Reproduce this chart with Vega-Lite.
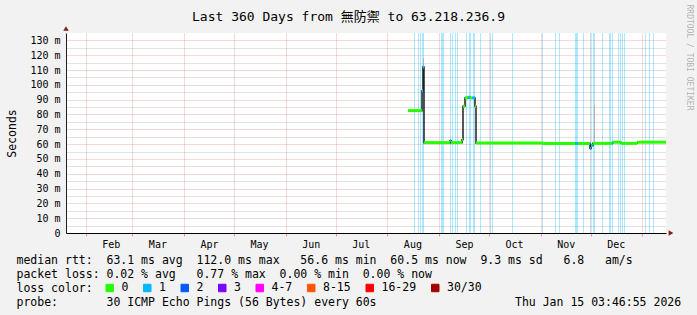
{
  "$schema": "https://vega.github.io/schema/vega-lite/v6.json",
  "width": 600,
  "height": 200,
  "autosize": {"type": "none"},
  "padding": {"left": 66, "top": 33, "right": 31, "bottom": 82},
  "background": "#F2F2F2",
  "config": {"view": {"fill": "#FFFFFF", "stroke": null}, "font": "DejaVu Sans Mono"},
  "title": {
    "text": "Last 360 Days from 無防禦 to 63.218.236.9",
    "font": "DejaVu Sans Mono, Noto Sans CJK TC",
    "fontSize": 13,
    "fontWeight": "normal",
    "color": "#000000",
    "anchor": "middle",
    "dx": -17.5,
    "dy": 42,
    "offset": 12,
    "baseline": "alphabetic"
  },
  "datasets": {
    "loss_periods": [
      {"t": "2025-08-16T22:59:00Z", "t2": "2025-08-17T13:23:00Z"},
      {"t": "2025-08-19T08:35:00Z", "t2": "2025-08-19T22:59:00Z"},
      {"t": "2025-08-20T13:23:00Z", "t2": "2025-08-21T03:47:00Z"},
      {"t": "2025-08-21T18:11:00Z", "t2": "2025-08-22T22:59:00Z"},
      {"t": "2025-09-02T03:47:00Z", "t2": "2025-09-03T22:59:00Z"},
      {"t": "2025-09-07T13:23:00Z", "t2": "2025-09-08T03:47:00Z"},
      {"t": "2025-09-08T18:11:00Z", "t2": "2025-09-09T08:35:00Z"},
      {"t": "2025-09-10T13:23:00Z", "t2": "2025-09-11T03:47:00Z"},
      {"t": "2025-09-11T18:11:00Z", "t2": "2025-09-12T08:35:00Z"},
      {"t": "2025-09-17T03:47:00Z", "t2": "2025-09-17T18:11:00Z"},
      {"t": "2025-09-18T22:59:00Z", "t2": "2025-09-20T03:47:00Z"},
      {"t": "2025-09-21T08:35:00Z", "t2": "2025-09-22T13:23:00Z"},
      {"t": "2025-09-25T13:23:00Z", "t2": "2025-09-26T03:47:00Z"},
      {"t": "2025-10-01T13:23:00Z", "t2": "2025-10-02T03:47:00Z"},
      {"t": "2025-10-02T18:11:00Z", "t2": "2025-10-03T08:35:00Z"},
      {"t": "2025-10-14T18:11:00Z", "t2": "2025-10-15T08:35:00Z"},
      {"t": "2025-11-01T18:11:00Z", "t2": "2025-11-02T08:35:00Z"},
      {"t": "2025-11-09T13:23:00Z", "t2": "2025-11-10T03:47:00Z"},
      {"t": "2025-11-11T22:59:00Z", "t2": "2025-11-12T13:23:00Z"},
      {"t": "2025-11-21T13:23:00Z", "t2": "2025-11-23T08:35:00Z"},
      {"t": "2025-11-26T08:35:00Z", "t2": "2025-11-26T22:59:00Z"},
      {"t": "2025-11-30T13:23:00Z", "t2": "2025-12-01T03:47:00Z"},
      {"t": "2025-12-02T08:35:00Z", "t2": "2025-12-03T13:23:00Z"},
      {"t": "2025-12-07T18:11:00Z", "t2": "2025-12-08T08:35:00Z"},
      {"t": "2025-12-11T22:59:00Z", "t2": "2025-12-13T03:47:00Z"},
      {"t": "2025-12-13T18:11:00Z", "t2": "2025-12-14T08:35:00Z"},
      {"t": "2025-12-17T08:35:00Z", "t2": "2025-12-17T22:59:00Z"},
      {"t": "2025-12-18T13:23:00Z", "t2": "2025-12-19T03:47:00Z"},
      {"t": "2025-12-19T18:11:00Z", "t2": "2025-12-20T08:35:00Z"},
      {"t": "2025-12-20T22:59:00Z", "t2": "2025-12-21T13:23:00Z"},
      {"t": "2026-01-02T13:23:00Z", "t2": "2026-01-03T03:47:00Z"},
      {"t": "2026-01-04T22:59:00Z", "t2": "2026-01-05T13:23:00Z"},
      {"t": "2026-01-07T08:35:00Z", "t2": "2026-01-07T22:59:00Z"}
    ],
    "smoke": [
      {"t": "2025-08-22T08:35:00Z", "t2": "2025-08-22T22:59:00Z", "lo": 112, "hi": 118},
      {"t": "2025-12-02T22:59:00Z", "t2": "2025-12-03T13:23:00Z", "lo": 61, "hi": 86}
    ],
    "median": [
      {"t": "2025-08-13T08:35:00Z", "t2": "2025-08-21T18:11:00Z", "rtt": 82.6, "loss": "0"},
      {"t": "2025-08-21T18:11:00Z", "t2": "2025-08-22T08:35:00Z", "rtt": 96.0, "loss": "1"},
      {"t": "2025-08-22T08:35:00Z", "t2": "2025-08-22T22:59:00Z", "rtt": 112.0, "loss": "1"},
      {"t": "2025-08-22T22:59:00Z", "t2": "2025-09-07T13:23:00Z", "rtt": 61.0, "loss": "0"},
      {"t": "2025-09-07T13:23:00Z", "t2": "2025-09-08T03:47:00Z", "rtt": 62.3, "loss": "1"},
      {"t": "2025-09-08T03:47:00Z", "t2": "2025-09-14T18:11:00Z", "rtt": 61.0, "loss": "0"},
      {"t": "2025-09-14T18:11:00Z", "t2": "2025-09-15T08:35:00Z", "rtt": 63.0, "loss": "0"},
      {"t": "2025-09-15T08:35:00Z", "t2": "2025-09-16T13:23:00Z", "rtt": 85.5, "loss": "0"},
      {"t": "2025-09-16T13:23:00Z", "t2": "2025-09-18T08:35:00Z", "rtt": 91.2, "loss": "0"},
      {"t": "2025-09-18T08:35:00Z", "t2": "2025-09-19T13:23:00Z", "rtt": 91.6, "loss": "1"},
      {"t": "2025-09-19T13:23:00Z", "t2": "2025-09-20T18:11:00Z", "rtt": 91.2, "loss": "0"},
      {"t": "2025-09-20T18:11:00Z", "t2": "2025-09-22T13:23:00Z", "rtt": 91.2, "loss": "1"},
      {"t": "2025-09-22T13:23:00Z", "t2": "2025-09-23T03:47:00Z", "rtt": 85.5, "loss": "0"},
      {"t": "2025-09-23T03:47:00Z", "t2": "2025-11-02T08:35:00Z", "rtt": 60.8, "loss": "0"},
      {"t": "2025-11-02T08:35:00Z", "t2": "2025-11-21T13:23:00Z", "rtt": 60.4, "loss": "0"},
      {"t": "2025-11-21T13:23:00Z", "t2": "2025-11-23T08:35:00Z", "rtt": 60.4, "loss": "1"},
      {"t": "2025-11-23T08:35:00Z", "t2": "2025-11-30T13:23:00Z", "rtt": 60.4, "loss": "0"},
      {"t": "2025-11-30T13:23:00Z", "t2": "2025-12-01T03:47:00Z", "rtt": 57.0, "loss": "1"},
      {"t": "2025-12-01T03:47:00Z", "t2": "2025-12-02T08:35:00Z", "rtt": 59.0, "loss": "1"},
      {"t": "2025-12-02T08:35:00Z", "t2": "2025-12-13T18:11:00Z", "rtt": 60.5, "loss": "0"},
      {"t": "2025-12-13T18:11:00Z", "t2": "2025-12-14T08:35:00Z", "rtt": 60.5, "loss": "1"},
      {"t": "2025-12-14T08:35:00Z", "t2": "2025-12-19T03:47:00Z", "rtt": 61.3, "loss": "0"},
      {"t": "2025-12-19T03:47:00Z", "t2": "2025-12-28T18:11:00Z", "rtt": 60.5, "loss": "0"},
      {"t": "2025-12-28T18:11:00Z", "t2": "2026-01-15T03:46:55Z", "rtt": 61.3, "loss": "0"}
    ]
  },
  "layer": [
    {
      "data": {"name": "loss_periods"},
      "mark": {"type": "rect", "color": "#00b8ff", "opacity": 0.33},
      "encoding": {
        "x": {
          "field": "t",
          "type": "temporal",
          "scale": {
            "type": "utc",
            "nice": false,
            "domain": [
              {"year": 2025, "month": 1, "date": 20, "hours": 3, "minutes": 46, "seconds": 55, "utc": true},
              {"year": 2026, "month": 1, "date": 15, "hours": 3, "minutes": 46, "seconds": 55, "utc": true}
            ]
          },
          "axis": {
            "values": [
              {"year": 2025, "month": 2, "date": 1, "utc": true},
              {"year": 2025, "month": 3, "date": 1, "utc": true},
              {"year": 2025, "month": 4, "date": 1, "utc": true},
              {"year": 2025, "month": 5, "date": 1, "utc": true},
              {"year": 2025, "month": 6, "date": 1, "utc": true},
              {"year": 2025, "month": 7, "date": 1, "utc": true},
              {"year": 2025, "month": 8, "date": 1, "utc": true},
              {"year": 2025, "month": 9, "date": 1, "utc": true},
              {"year": 2025, "month": 10, "date": 1, "utc": true},
              {"year": 2025, "month": 11, "date": 1, "utc": true},
              {"year": 2025, "month": 12, "date": 1, "utc": true},
              {"year": 2026, "month": 1, "date": 1, "utc": true}
            ],
            "labelExpr": "utcFormat(datum.value, '%b') == 'Jan' ? '' : utcFormat(datum.value, '%b')",
            "labelOffset": 25,
            "labelFlush": false,
            "labelOverlap": false,
            "labelBound": false,
            "labelFont": "DejaVu Sans Mono",
            "labelFontSize": 10,
            "labelColor": "#000000",
            "labelPadding": 3,
            "tickColor": "#DE4F4F",
            "tickOpacity": 0.6,
            "tickSize": 3,
            "tickWidth": 1,
            "grid": true,
            "gridColor": "#DE4F4F",
            "gridOpacity": 0.45,
            "gridDash": [1, 1],
            "gridWidth": 1,
            "domainColor": "#000000",
            "domainWidth": 1,
            "title": [
              "median\u00a0rtt:\u00a0\u00a063.1\u00a0ms\u00a0avg\u00a0\u00a0112.0\u00a0ms\u00a0max\u00a0\u00a0\u00a056.6\u00a0ms\u00a0min\u00a0\u00a060.5\u00a0ms\u00a0now\u00a0\u00a09.3\u00a0ms\u00a0sd\u00a0\u00a0\u00a06.8\u00a0\u00a0\u00a0am/s",
              "packet\u00a0loss:\u00a00.02\u00a0%\u00a0avg\u00a0\u00a0\u00a00.77\u00a0%\u00a0max\u00a0\u00a00.00\u00a0%\u00a0min\u00a0\u00a00.00\u00a0%\u00a0now",
              "loss\u00a0color:",
              "probe:\u00a0\u00a0\u00a0\u00a0\u00a0\u00a0\u00a030\u00a0ICMP\u00a0Echo\u00a0Pings\u00a0(56\u00a0Bytes)\u00a0every\u00a060s\u00a0\u00a0\u00a0\u00a0\u00a0\u00a0\u00a0\u00a0\u00a0\u00a0\u00a0\u00a0\u00a0\u00a0\u00a0\u00a0\u00a0\u00a0\u00a0\u00a0Thu\u00a0Jan\u00a015\u00a003:46:55\u00a02026"
            ],
            "titleFont": "DejaVu Sans Mono",
            "titleFontSize": 11.5,
            "titleFontWeight": "normal",
            "titleColor": "#000000",
            "titleX": -50,
            "titleY": 30,
            "titleAlign": "left",
            "titleBaseline": "alphabetic",
            "titleLineHeight": 14,
            "titleAngle": 0
          }
        },
        "x2": {"field": "t2"},
        "y": {
          "datum": 0,
          "type": "quantitative",
          "scale": {"domain": [0, 135], "nice": false, "zero": true},
          "axis": {
            "values": [0, 5, 10, 15, 20, 25, 30, 35, 40, 45, 50, 55, 60, 65, 70, 75, 80, 85, 90, 95, 100, 105, 110, 115, 120, 125, 130],
            "labelExpr": "datum.value % 10 === 0 ? (datum.value === 0 ? '0' : datum.value + ' m') : ''",
            "labelOverlap": false,
            "labelFont": "DejaVu Sans Mono",
            "labelFontSize": 10,
            "labelColor": "#000000",
            "labelPadding": 6,
            "ticks": false,
            "grid": true,
            "gridColor": {"condition": {"test": "datum.value % 10 === 0", "value": "#DE4F4F"}, "value": "#8F8F8F"},
            "gridOpacity": {"condition": {"test": "datum.value % 10 === 0", "value": 0.45}, "value": 0.5},
            "gridDash": [1, 1],
            "gridWidth": 1,
            "domainColor": "#1F1F1F",
            "domainWidth": 1,
            "title": "Seconds",
            "titleFont": "DejaVu Sans Mono",
            "titleFontSize": 11.5,
            "titleFontWeight": "normal",
            "titleColor": "#000000",
            "titleX": -51,
            "titleY": 100,
            "titleAngle": 270,
            "titleAlign": "center",
            "titleBaseline": "alphabetic"
          }
        },
        "y2": {"datum": 135}
      }
    },
    {
      "data": {"name": "smoke"},
      "mark": {"type": "rect", "color": "#B4B4B4"},
      "encoding": {
        "x": {"field": "t", "type": "temporal"},
        "x2": {"field": "t2"},
        "y": {"field": "lo", "type": "quantitative", "axis": null},
        "y2": {"field": "hi"}
      }
    },
    {
      "data": {"name": "median"},
      "mark": {"type": "line", "interpolate": "step-after", "color": "#202020", "strokeWidth": 1.5},
      "encoding": {
        "x": {"field": "t", "type": "temporal"},
        "y": {"field": "rtt", "type": "quantitative", "axis": null}
      }
    },
    {
      "data": {"name": "median"},
      "mark": {"type": "rule", "strokeWidth": 3, "strokeCap": "butt"},
      "encoding": {
        "x": {"field": "t", "type": "temporal"},
        "x2": {"field": "t2"},
        "y": {
          "field": "rtt",
          "type": "quantitative",
          "axis": {
            "orient": "right",
            "domain": false,
            "ticks": false,
            "labels": false,
            "grid": false,
            "title": "RRDTOOL / TOBI OETIKER",
            "titleFont": "DejaVu Sans Mono",
            "titleFontSize": 8,
            "titleFontWeight": "normal",
            "titleColor": "#000000",
            "titleOpacity": 0.3,
            "titleAngle": 90,
            "titleX": 22,
            "titleY": -29,
            "titleAlign": "left",
            "titleBaseline": "middle"
          }
        },
        "color": {
          "field": "loss",
          "type": "nominal",
          "scale": {
            "domain": ["0", "1", "2", "3", "4-7", "8-15", "16-29", "30/30"],
            "range": ["#26ff00", "#00b8ff", "#0059ff", "#7e00ff", "#ff00ff", "#ff5500", "#ff0000", "#a10000"]
          },
          "legend": {
            "orient": "none",
            "legendX": 38,
            "legendY": 249,
            "direction": "horizontal",
            "columns": 8,
            "title": null,
            "symbolType": "square",
            "symbolSize": 56,
            "symbolStrokeWidth": 1,
            "labelFont": "DejaVu Sans Mono",
            "labelFontSize": 11.5,
            "labelColor": "#000000",
            "labelOffset": 6,
            "columnPadding": 12.5,
            "padding": 0,
            "encode": {
              "symbols": {
                "update": {
                  "fill": {"scale": "color", "field": "value"},
                  "stroke": {"value": "#000000"},
                  "strokeWidth": {"value": 1},
                  "opacity": {"value": 1}
                }
              }
            }
          }
        }
      }
    },
    {
      "data": {"values": [{}]},
      "layer": [
        {
          "mark": {"type": "point", "shape": "triangle-right", "filled": true, "color": "#801F1F", "opacity": 1, "size": 30, "xOffset": 5},
          "encoding": {
            "x": {"datum": {"year": 2026, "month": 1, "date": 15, "hours": 3, "minutes": 46, "seconds": 55, "utc": true}, "type": "temporal"},
            "y": {"datum": 0, "type": "quantitative", "axis": null}
          }
        },
        {
          "mark": {"type": "point", "shape": "triangle-up", "filled": true, "color": "#801F1F", "opacity": 1, "size": 30, "yOffset": -4.5},
          "encoding": {
            "x": {"datum": {"year": 2025, "month": 1, "date": 20, "hours": 3, "minutes": 46, "seconds": 55, "utc": true}, "type": "temporal"},
            "y": {"datum": 135, "type": "quantitative", "axis": null}
          }
        }
      ]
    }
  ],
  "resolve": {"axis": {"y": "independent"}}
}
